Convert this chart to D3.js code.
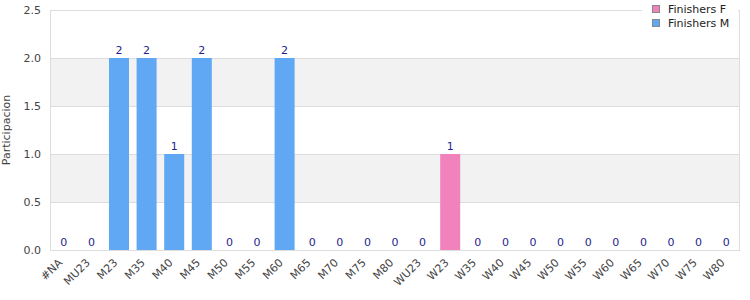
<!DOCTYPE html>
<html lang="en"><head>
<meta charset="utf-8">
<title>Participacion</title>
<script src="https://cdn.jsdelivr.net/npm/d3@7"></script>
<style>
body { margin: 0; background: #fff; }
text { font-family: "DejaVu Sans", sans-serif; }
</style>
</head>
<body>
<script>
var width = 750, height = 300;
var padding = {top: 10, bottom: 50, right: 10, left: 50};

var categories = ["#NA","MU23","M23","M35","M40","M45","M50","M55","M60","M65","M70","M75","M80","WU23","W23","W35","W40","W45","W50","W55","W60","W65","W70","W75","W80"];
var finishersF = [0,0,0,0,0,0,0,0,0,0,0,0,0,0,1,0,0,0,0,0,0,0,0,0,0];
var finishersM = [0,0,2,2,1,2,0,0,2,0,0,0,0,0,0,0,0,0,0,0,0,0,0,0,0];
var yTicks = [0, 0.5, 1, 1.5, 2, 2.5];
var seriesNames = ["Finishers F", "Finishers M"];
var seriesColors = ["#f282bb", "#60a8f4"];

var rows = categories.map(function(c, i) { return {cat: c, F: finishersF[i], M: finishersM[i]}; });
var stacked = d3.stack().keys(["F", "M"])(rows);

var svg = d3.select("body").append("svg").attr("width", width).attr("height", height);

var x = d3.scaleBand().domain(categories).range([padding.left, width - padding.right]).paddingInner(0.275).paddingOuter(0.1375);
var y = d3.scaleLinear().domain([0, 2.5]).range([height - padding.bottom, padding.top]);

// alternating bands
for (var i = 0; i < yTicks.length - 1; i++) {
  svg.append("rect")
    .attr("x", padding.left).attr("width", width - padding.right - padding.left)
    .attr("y", y(yTicks[i + 1])).attr("height", y(yTicks[i]) - y(yTicks[i + 1]))
    .attr("fill", i % 2 == 1 ? "#f2f2f2" : "#fff");
}

var gY = svg.append("g").attr("transform", "translate(" + padding.left + ",0)")
  .call(d3.axisLeft(y).tickValues(yTicks).tickFormat(d3.format(".1f")).tickSize(-(width - padding.left - padding.right)).tickPadding(9));
gY.select(".domain").remove();
gY.selectAll("line").attr("stroke", "#ddd");
gY.selectAll("text").attr("fill", "#444").attr("font-size", 11);

// frame
svg.append("rect").attr("x", padding.left + 0.5).attr("y", padding.top + 0.5)
  .attr("width", width - padding.left - padding.right - 1).attr("height", height - padding.top - padding.bottom)
  .attr("fill", "none").attr("stroke", "#ddd");

svg.append("g").selectAll("g").data(stacked).enter().append("g")
  .attr("fill", function(d, i) { return seriesColors[i]; })
  .selectAll("rect").data(function(d) { return d; }).enter().append("rect")
  .attr("x", function(d) { return x(d.data.cat); })
  .attr("width", x.bandwidth())
  .attr("y", function(d) { return y(d[1]); })
  .attr("height", function(d) { return y(d[0]) - y(d[1]); });

svg.append("g").selectAll("text").data(rows).enter().append("text")
  .attr("x", function(d) { return x(d.cat) + x.bandwidth() / 2; })
  .attr("y", function(d) { return y(d.F + d.M) - 4; })
  .attr("text-anchor", "middle").attr("font-size", 11).attr("fill", "#1f1f8f")
  .text(function(d) { return d.F + d.M; });

var gX = svg.append("g").attr("transform", "translate(0," + (height - padding.bottom) + ")")
  .call(d3.axisBottom(x).tickSize(0).tickPadding(5));
gX.select(".domain").attr("stroke", "#ddd");
gX.selectAll("text").attr("fill", "#444").attr("font-size", 11)
  .attr("text-anchor", "end").attr("transform", "rotate(-45)").attr("dx", -10).attr("dy", "0.35em");

svg.append("text").attr("transform", "translate(6," + ((height - padding.bottom + padding.top) / 2) + ") rotate(-90)")
  .attr("text-anchor", "middle").attr("dy", "0.35em").attr("font-size", 11).attr("fill", "#444").text("Participacion");

// legend
var lg = svg.append("g").attr("transform", "translate(642,0)");
lg.append("rect").attr("x", 0).attr("y", 0).attr("width", 96).attr("height", 32).attr("fill", "#fff");
seriesNames.forEach(function(n, i) {
  lg.append("rect").attr("x", 10.5).attr("y", 5.5 + i * 14).attr("width", 7).attr("height", 7)
    .attr("fill", seriesColors[i]).attr("stroke", "#888");
  lg.append("text").attr("x", 26).attr("y", 9 + i * 14).attr("dy", "0.35em").attr("font-size", 11).attr("fill", "#222").text(n);
});
</script>
</body>
</html>
